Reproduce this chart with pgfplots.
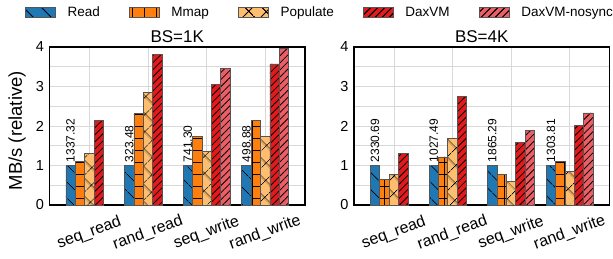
\documentclass[border=0pt]{standalone}
\usepackage{fontspec}
\setmainfont{Liberation Sans}
\usepackage{pgfplots}
\pgfplotsset{compat=1.18}
\usetikzlibrary{patterns.meta}

\definecolor{cRead}{HTML}{1F77B4}
\definecolor{cMmap}{HTML}{FF7F0E}
\definecolor{cPop}{HTML}{FDBF6F}
\definecolor{cDax}{HTML}{E31A1C}
\definecolor{cNos}{HTML}{EA5F66}
\definecolor{cEdge}{HTML}{555555}

\tikzset{
  pRead/.style={fill=cRead, draw=cEdge, line width=0.6pt,
    postaction={pattern={Lines[angle=-45,distance=13pt,line width=0.8pt]}, pattern color=black}},
  pMmap/.style={fill=cMmap, draw=cEdge, line width=0.6pt,
    postaction={pattern={Hatch[angle=0,distance=12pt,line width=0.8pt]}, pattern color=black}},
  pPop/.style={fill=cPop, draw=cEdge, line width=0.6pt,
    postaction={pattern={Hatch[angle=45,distance=13pt,line width=0.8pt]}, pattern color=black}},
  pDax/.style={fill=cDax, draw=cEdge, line width=0.6pt,
    postaction={pattern={Lines[angle=45,distance=5pt,line width=0.8pt]}, pattern color=black}},
  pNos/.style={fill=cNos, draw=cEdge, line width=0.6pt,
    postaction={pattern={Lines[angle=45,distance=5pt,line width=0.8pt]}, pattern color=black}},
}

\pgfplotsset{
  myaxis/.style={
    scale only axis,
    width=255.5pt, height=158pt,
    ybar=0pt, bar width=0.16,
    xmin=-0.68, xmax=3.68,
    ymin=0, ymax=4,
    xtick={0,1,2,3},
    xticklabels={seq\_read,rand\_read,seq\_write,rand\_write},
    ytick={0,1,2,3,4},
    minor ytick={0.5,1.5,2.5,3.5},
    grid=both,
    major grid style={draw=black!15, line width=0.6pt},
    minor grid style={draw=black!15, line width=0.6pt},
    major tick length=0pt, minor tick length=0pt,
    axis line style={line width=1.6pt, black},
    /pgf/number format/assume math mode=true,
    yticklabel style={font=\fontsize{14.5}{16}\selectfont, xshift=-2pt},
    xticklabel shift=28pt,
    xticklabel style={rotate=20, anchor=center, font=\fontsize{16}{18}\selectfont},
    every axis title shift=0pt,
    title style={at={(0.5,1)}, anchor=base, yshift=5pt, font=\fontsize{17}{20}\selectfont},
  },
  readnodes/.style={
    point meta=explicit symbolic,
    nodes near coords,
    every node near coord/.append style={rotate=90, anchor=west, inner sep=3pt, font=\fontsize{12}{13}\selectfont, black},
  },
  limg/.style={legend image code/.code={\draw[#1] (0pt,-5pt) rectangle (30pt,5pt);}},
}

\begin{document}
\begin{tikzpicture}
\begin{axis}[myaxis,
  title={BS=1K},
  ylabel={MB/s (relative)},
  ylabel style={at={(axis description cs:-0.127,0.47)}, anchor=center, font=\fontsize{18.5}{20}\selectfont},
  legend columns=5,
  legend style={at={(axis description cs:-0.0959,1.218)}, anchor=west, draw=none, fill=none,
    inner sep=0pt, outer sep=0pt,
    nodes={inner sep=0pt},
    font=\fontsize{13.5}{15}\selectfont,
    /tikz/every odd column/.append style={column sep=12pt},
    /tikz/every even column/.append style={column sep=29pt}},
]
\addplot[pRead, readnodes, limg=pRead] coordinates {(0,1)[1337.32] (1,1)[323.48] (2,1)[741.30] (3,1)[498.88]};
\addlegendentry{Read}
\addplot[pMmap, limg=pMmap] coordinates {(0,1.11) (1,2.31) (2,1.74) (3,2.14)};
\addlegendentry{Mmap}
\addplot[pPop, limg=pPop] coordinates {(0,1.31) (1,2.86) (2,1.37) (3,1.73)};
\addlegendentry{Populate}
\addplot[pDax, limg=pDax] coordinates {(0,2.14) (1,3.81) (2,3.06) (3,3.57)};
\addlegendentry{DaxVM}
\addplot[pNos, limg=pNos] coordinates {(2,3.45) (3,3.96)};
\addlegendentry{DaxVM-nosync}
\end{axis}
\begin{axis}[myaxis, xshift=304.5pt,
  title={BS=4K},
]
\addplot[pRead, readnodes] coordinates {(0,1)[2330.69] (1,1)[1027.49] (2,1)[1865.29] (3,1)[1303.81]};
\addplot[pMmap] coordinates {(0,0.64) (1,1.22) (2,0.77) (3,1.10)};
\addplot[pPop] coordinates {(0,0.78) (1,1.68) (2,0.59) (3,0.85)};
\addplot[pDax] coordinates {(0,1.31) (1,2.75) (2,1.59) (3,2.01)};
\addplot[pNos] coordinates {(2,1.88) (3,2.33)};
\end{axis}
\pgfresetboundingbox
\path (-49.5pt,-53pt) rectangle (563.5pt,205pt);
\end{tikzpicture}
\end{document}
